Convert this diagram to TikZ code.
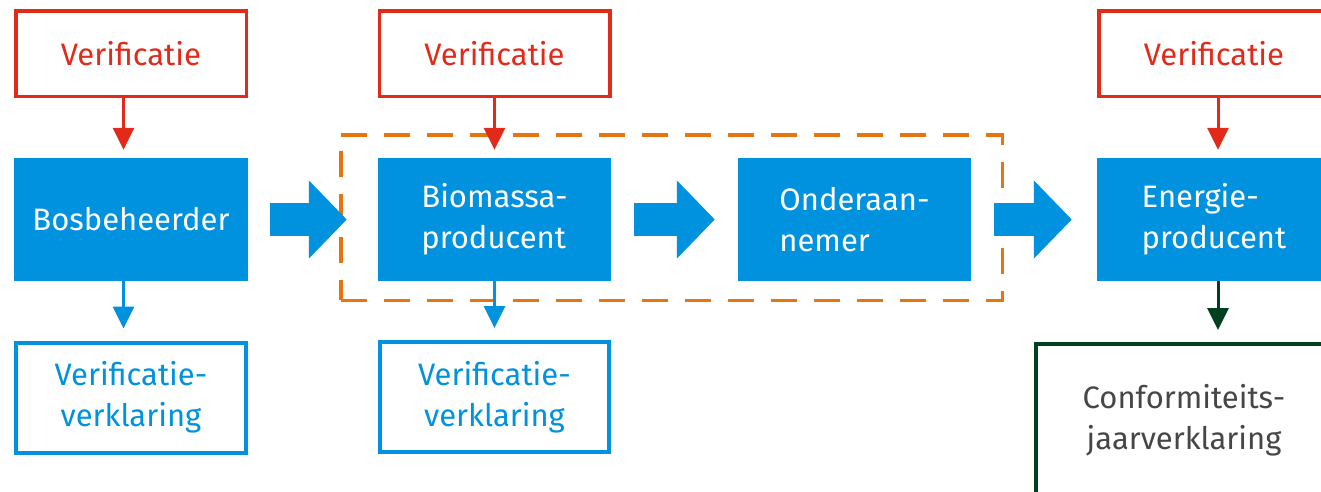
\documentclass[tikz,border=0pt]{standalone}
\usepackage{fontspec}
\setmainfont{Fira Sans}
\usetikzlibrary{arrows.meta}
\definecolor{rbblue}{RGB}{0,145,223}
\definecolor{rbred}{RGB}{226,42,26}
\definecolor{rborange}{RGB}{232,116,15}
\definecolor{rbgreen}{RGB}{0,64,30}
\definecolor{rbtext}{RGB}{70,70,70}
\begin{document}
\begin{tikzpicture}[x=1pt,y=-1pt,
  txt/.style={font=\fontsize{31}{41}\selectfont, align=center, inner sep=0pt},
  verbox/.style={txt, draw=rbred, line width=3.5pt, minimum width=230.5pt, minimum height=85.5pt, text=rbred},
  actor/.style={txt, align=left, fill=rbblue, minimum width=234pt, minimum height=123pt, text=white},
  declbox/.style={txt, draw=rbblue, line width=4pt, minimum width=230pt, minimum height=110pt, text=rbblue},
  confbox/.style={txt, draw=rbgreen, line width=4pt, minimum width=296pt, minimum height=152pt, text=rbtext},
  groupbox/.style={draw=rborange, line width=3.5pt, dash pattern=on 26pt off 17pt, minimum width=661.5pt, minimum height=165.5pt, inner sep=0pt},
  redlink/.style={draw=rbred, line width=3pt, -{Triangle[length=22pt,width=21pt]}, shorten >=8pt},
  bluelink/.style={draw=rbblue, line width=3pt, -{Triangle[length=22pt,width=21pt]}, shorten >=12pt},
  greenlink/.style={draw=rbgreen, line width=3pt, -{Triangle[length=22pt,width=21pt]}, shorten >=12pt},
  bigarrow/.style={draw=rbblue, line width=33pt, -{Triangle[length=38pt,width=76pt]}}
]
\useasboundingbox (0,0) rectangle (1321,491);
\clip (0,0) rectangle (1321,491);

% group (dashed)
\node[groupbox] (grp) at (671.5,217.5) {};

% verification boxes
\node[verbox] (v1) at (131,53.5) {Verificatie};
\node[verbox] (v2) at (494.5,53.5) {Verificatie};
\node[verbox] (v3) at (1214,53.5) {Verificatie};

% actors
\node[actor] (b1) at (131,219.5) {Bosbeheerder};
\node[actor, minimum width=233pt] (b2) at (494.5,219.5) {Biomassa-\\producent};
\node[actor, minimum width=233pt] (b3) at (854.5,219.5) {Onderaan-\\nemer};
\node[actor] (b4) at (1214,219.5) {Energie-\\producent};

% declarations
\node[declbox] (d1) at (131,397.5) {Verificatie-\\verklaring};
\node[declbox, minimum width=229pt] (d2) at (494.5,397) {Verificatie-\\verklaring};
\node[confbox] (c4) at (1184,420) {Conformiteits-\\jaarverklaring};

% red verification arrows
\draw[redlink] ([xshift=-7.5pt]v1.south) -- ([xshift=-7.5pt]b1.north);
\draw[redlink] (v2.south) -- (b2.north);
\draw[redlink] ([xshift=4pt]v3.south) -- ([xshift=4pt]b4.north);

% declaration arrows
\draw[bluelink] ([xshift=-7.5pt]b1.south) -- ([xshift=-7.5pt]d1.north);
\draw[bluelink] (b2.south) -- (d2.north);
\draw[greenlink] ([xshift=4pt]b4.south) -- ([xshift=4pt]b4.south |- c4.north);

% big flow arrows
\draw[bigarrow] ([xshift=22pt]b1.east) -- ([xshift=-31pt]b2.west);
\draw[bigarrow] ([xshift=23pt]b2.east) -- ([xshift=-23pt]b3.west);
\draw[bigarrow] ([xshift=23pt]b3.east) -- ([xshift=-25pt]b4.west);
\end{tikzpicture}
\end{document}
